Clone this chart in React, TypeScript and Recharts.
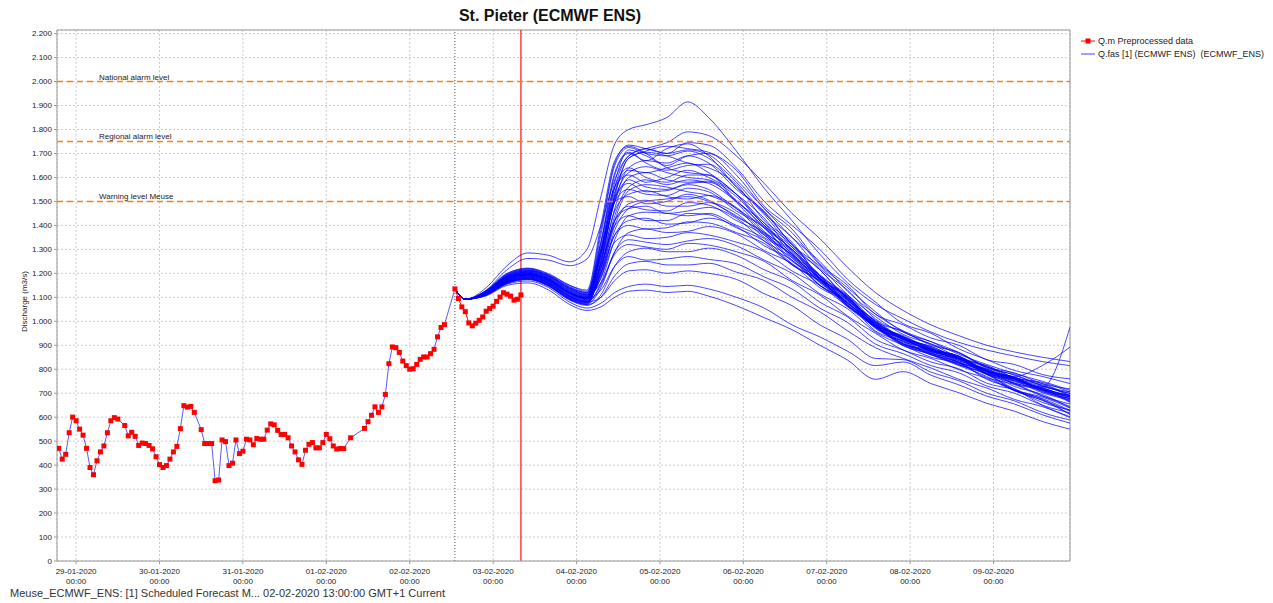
import React from "react";
import {
  LineChart,
  Line,
  XAxis,
  YAxis,
  CartesianGrid,
  ReferenceLine,
} from "recharts";

const FONT = "'Liberation Sans', Arial, sans-serif";

// time in hours since 29-01-2020 00:00
const obsHours = [
  -5, -4, -3, -2, -1, 0, 1, 2, 3, 4, 5, 6, 7, 8, 9, 10, 11, 12,
  14, 15, 16, 17, 18, 19, 20, 21, 22, 23, 24, 25, 26, 27, 28, 29, 30, 31, 32, 33, 34,
  36, 37, 38, 39, 40, 41, 42, 43, 44, 45, 46, 47, 48, 49, 50, 51, 52, 53, 54, 55, 56,
  57, 58, 59, 60, 61, 62, 63, 64, 65, 66, 67, 68, 69, 70, 71, 72, 73, 74, 75, 76, 77,
  79,
  83, 84, 85, 86, 87, 88, 89, 90, 91, 92, 93, 94, 95, 96, 97, 98, 99, 100, 101, 102, 103, 104, 105, 106,
  109, 110, 111, 112, 113, 114, 115, 116, 117, 118, 119, 120, 121, 122, 123, 124, 125, 126, 127, 128,
];
const obsValues = [
  470, 425, 445, 535, 600, 585, 550, 525, 470, 390, 360, 418, 455, 480, 535, 585, 598, 592,
  565, 522, 537, 520, 482, 492, 490, 482, 468, 435, 402, 390, 398, 425, 455, 478, 552, 648, 642, 645, 620,
  548, 490, 490, 490, 335, 338, 505, 498, 398, 408, 505, 448, 458, 508, 505, 485, 511, 508, 508, 546, 572,
  568, 545, 528, 528, 514, 480, 455, 422, 403, 462, 487, 494, 472, 472, 494, 528, 510, 480, 467, 469, 469,
  514,
  553, 581, 608, 643, 620, 643, 695, 823, 893, 890, 870, 834, 815, 800, 802, 820, 841, 851, 851, 865, 883, 935, 974, 986,
  1135, 1095, 1060, 1040, 993, 981, 992, 1004, 1018, 1042, 1053, 1063, 1083, 1101, 1119, 1113, 1105, 1088, 1092, 1110,
];

const forecastStart = 109; // 02-02-2020 13:00
const currentTime = 128; // 03-02-2020 08:00

const ensHours = [
  109, 112, 118, 124, 130, 136, 142, 147, 151, 155, 159, 164, 170, 176,
  182, 190, 198, 206, 214, 222, 230, 238, 246, 254, 262, 270, 278, 286,
];

const ensMembers = [
  [1135,1092,1140,1232,1285,1275,1248,1300,1520,1740,1800,1820,1850,1915,1850,1710,1555,1420,1280,1160,1070,1010,955,912,880,855,832,815],
  [1135,1092,1130,1215,1262,1255,1232,1260,1400,1590,1690,1720,1745,1790,1775,1690,1575,1450,1345,1225,1120,1045,985,940,900,872,850,832],
  [1135,1092,1125,1195,1215,1190,1140,1120,1380,1660,1735,1720,1700,1745,1735,1640,1500,1400,1300,1175,1080,990,950,885,840,795,770,740],
  [1135,1092,1118,1175,1200,1175,1120,1100,1300,1580,1715,1690,1650,1690,1700,1610,1470,1370,1235,1140,1040,955,915,870,810,775,730,700],
  [1135,1092,1122,1185,1210,1185,1135,1115,1320,1610,1700,1670,1720,1740,1690,1560,1455,1320,1215,1095,1000,925,880,850,780,740,690,645],
  [1135,1092,1115,1170,1190,1160,1105,1085,1250,1520,1680,1705,1690,1660,1640,1570,1420,1330,1180,1100,990,935,890,830,795,742,718,665],
  [1135,1092,1128,1200,1220,1195,1150,1130,1400,1670,1730,1700,1640,1620,1610,1530,1430,1290,1190,1070,975,905,860,815,770,710,672,625],
  [1135,1092,1112,1160,1180,1150,1095,1075,1240,1530,1680,1710,1730,1720,1705,1630,1480,1385,1240,1150,1030,985,930,900,840,820,778,760],
  [1135,1092,1120,1180,1195,1170,1115,1095,1330,1620,1705,1660,1630,1650,1655,1560,1445,1310,1215,1090,1005,930,895,845,810,760,735,688],
  [1135,1092,1116,1178,1205,1180,1128,1105,1360,1650,1725,1700,1690,1710,1680,1580,1450,1350,1220,1130,1010,955,905,868,805,778,732,705],
  [1135,1092,1124,1190,1212,1188,1138,1112,1260,1500,1640,1670,1660,1690,1660,1550,1460,1320,1230,1110,1020,945,905,850,815,765,740,690],
  [1135,1092,1114,1168,1188,1162,1108,1090,1280,1540,1630,1620,1640,1660,1620,1530,1400,1310,1180,1105,985,935,885,855,795,765,715,685],
  [1135,1092,1119,1182,1198,1172,1120,1098,1300,1560,1640,1600,1580,1610,1610,1500,1410,1280,1190,1075,985,910,870,828,788,728,695,640],
  [1135,1092,1110,1158,1175,1148,1090,1070,1220,1470,1600,1620,1590,1580,1585,1495,1375,1285,1160,1090,975,925,875,848,782,758,708,678],
  [1135,1092,1126,1195,1218,1192,1145,1120,1330,1560,1610,1580,1600,1630,1600,1530,1410,1320,1190,1110,1000,958,900,870,808,785,740,718],
  [1135,1092,1117,1172,1192,1165,1112,1092,1270,1500,1590,1560,1550,1575,1580,1505,1390,1300,1175,1100,985,935,880,855,790,765,715,690],
  [1135,1092,1121,1186,1205,1180,1130,1108,1290,1520,1575,1540,1545,1570,1550,1470,1390,1265,1180,1065,980,905,868,820,782,718,675,612],
  [1135,1092,1113,1165,1182,1155,1100,1080,1200,1420,1545,1570,1560,1540,1525,1470,1360,1275,1150,1080,960,918,865,842,778,752,702,672],
  [1135,1092,1123,1188,1208,1182,1132,1110,1280,1500,1550,1530,1525,1555,1540,1460,1390,1270,1185,1075,995,925,895,845,815,765,745,705],
  [1135,1092,1111,1162,1178,1150,1096,1076,1240,1460,1530,1545,1520,1510,1525,1475,1370,1295,1175,1105,985,940,885,855,792,768,718,692],
  [1135,1092,1127,1198,1222,1198,1150,1125,1300,1500,1520,1490,1500,1530,1505,1435,1370,1255,1175,1065,980,900,865,820,782,712,678,628],
  [1135,1092,1118,1175,1195,1168,1115,1094,1200,1400,1490,1505,1480,1480,1495,1450,1350,1280,1165,1095,980,930,878,852,790,762,712,684],
  [1135,1092,1115,1170,1186,1158,1104,1084,1220,1420,1480,1465,1460,1495,1485,1420,1360,1250,1175,1068,990,915,885,835,800,748,724,674],
  [1135,1092,1120,1184,1200,1175,1122,1100,1230,1420,1470,1480,1450,1460,1475,1430,1335,1265,1150,1085,975,928,875,845,782,758,725,975],
  [1135,1092,1112,1163,1180,1152,1098,1078,1160,1340,1440,1455,1450,1440,1450,1400,1345,1240,1170,1065,985,905,880,828,795,742,716,668],
  [1135,1092,1125,1192,1214,1190,1142,1118,1230,1400,1440,1420,1420,1450,1445,1390,1335,1235,1165,1060,975,898,862,818,778,712,670,612],
  [1135,1092,1116,1174,1192,1164,1110,1090,1190,1360,1420,1430,1405,1410,1430,1395,1315,1255,1150,1088,975,928,872,848,785,760,706,678],
  [1135,1092,1122,1187,1204,1178,1126,1104,1200,1360,1400,1385,1390,1415,1410,1370,1325,1235,1170,1075,995,920,885,836,798,770,815,892],
  [1135,1092,1110,1160,1176,1148,1092,1072,1140,1290,1370,1385,1370,1375,1395,1365,1295,1240,1140,1080,970,915,860,830,758,718,650,602],
  [1135,1092,1119,1180,1198,1170,1118,1096,1180,1330,1360,1345,1350,1370,1360,1330,1290,1210,1150,1062,985,905,875,826,790,738,712,662],
  [1135,1092,1114,1166,1184,1156,1102,1082,1150,1290,1340,1330,1320,1335,1345,1315,1255,1200,1115,1052,955,900,850,825,765,736,688,655],
  [1135,1092,1124,1190,1210,1186,1136,1110,1160,1280,1320,1310,1300,1325,1318,1290,1250,1170,1110,1022,950,880,845,798,762,712,684,638],
  [1135,1092,1110,1158,1174,1145,1088,1066,1110,1230,1290,1305,1290,1290,1305,1275,1215,1165,1080,1018,925,880,830,802,742,714,662,630],
  [1135,1092,1118,1176,1194,1168,1116,1094,1130,1230,1270,1255,1260,1270,1258,1240,1185,1135,1055,995,905,865,815,785,730,700,650,618],
  [1135,1092,1112,1162,1178,1150,1094,1070,1100,1190,1240,1250,1235,1235,1242,1205,1170,1100,1040,960,890,845,805,758,722,674,644,598],
  [1135,1092,1116,1170,1188,1160,1106,1080,1100,1170,1210,1215,1200,1210,1200,1175,1115,1065,985,925,845,840,788,752,700,668,620,588],
  [1135,1092,1108,1155,1168,1140,1080,1055,1075,1120,1145,1155,1145,1150,1135,1100,1055,985,935,875,815,830,775,735,688,655,610,575],
  [1135,1092,1106,1150,1160,1130,1070,1045,1060,1100,1125,1130,1120,1125,1105,1065,1015,965,900,838,758,790,740,702,658,625,582,550],
  [1135,1092,1121,1183,1202,1176,1124,1102,1280,1560,1690,1720,1700,1715,1695,1590,1470,1350,1250,1125,1030,960,915,862,820,782,750,712],
  [1135,1092,1117,1176,1196,1170,1118,1096,1250,1510,1620,1645,1620,1600,1590,1520,1400,1300,1195,1100,1000,930,890,845,798,755,720,688],
  [1135,1092,1113,1166,1184,1158,1104,1084,1210,1440,1560,1590,1570,1590,1575,1500,1395,1300,1190,1098,995,935,885,842,802,760,728,698],
  [1135,1092,1119,1179,1196,1172,1120,1098,1180,1380,1470,1500,1510,1520,1500,1440,1365,1275,1180,1090,990,925,880,840,792,752,722,682],
];

const dayTicks = [0, 24, 48, 72, 96, 120, 144, 168, 192, 216, 240, 264];
const dayLabels = [
  "29-01-2020", "30-01-2020", "31-01-2020", "01-02-2020", "02-02-2020", "03-02-2020",
  "04-02-2020", "05-02-2020", "06-02-2020", "07-02-2020", "08-02-2020", "09-02-2020",
];
const yTicks = [
  0, 100, 200, 300, 400, 500, 600, 700, 800, 900, 1000, 1100,
  1200, 1300, 1400, 1500, 1600, 1700, 1800, 1900, 2000, 2100, 2200,
];
const thresholdValues = [2000, 1750, 1500];
const thresholdNames = ["National alarm level", "Regional alarm level", "Warning level Meuse"];

const obsData = obsHours.map((h, i) => ({ h, q: obsValues[i] }));
const histData = obsData.filter((d) => d.h <= forecastStart);
const afterData = obsData.filter((d) => d.h >= forecastStart);
const ensData = ensHours.map((h, i) => {
  const row: Record<string, number> = { h };
  ensMembers.forEach((m, j) => {
    row["m" + j] = m[i];
  });
  return row;
});

function formatQ(v: number): string {
  if (v >= 1000) return `${Math.floor(v / 1000)}.${String(v % 1000).padStart(3, "0")}`;
  return String(v);
}

const DayTick = (props: any) => {
  const { x, y, payload } = props;
  const i = dayTicks.indexOf(payload.value);
  return (
    <g>
      <text x={x} y={y + 8} textAnchor="middle" fontSize={8} fill="#222" fontFamily={FONT}>
        {dayLabels[i]}
      </text>
      <text x={x} y={y + 18} textAnchor="middle" fontSize={8} fill="#222" fontFamily={FONT}>
        00:00
      </text>
    </g>
  );
};

const ThresholdLabel = (props: any) => {
  const { viewBox, text } = props;
  return (
    <text x={viewBox.x + 42} y={viewBox.y - 2} fontSize={8} fill="#222" fontFamily={FONT}>
      {text}
    </text>
  );
};

const ObsDot = (props: any) => {
  const { cx, cy, index } = props;
  return <rect key={`o${index}`} x={cx - 2.5} y={cy - 2.5} width={5} height={5} fill="#ff0000" />;
};

export default function App() {
  return (
    <div
      style={{
        position: "absolute",
        left: 0,
        top: 0,
        width: 1273,
        height: 603,
        background: "#fff",
        fontFamily: FONT,
      }}
    >
      <div
        style={{
          position: "absolute",
          left: 350,
          top: 7,
          width: 400,
          textAlign: "center",
          fontSize: 16,
          fontWeight: "bold",
          color: "#111",
        }}
      >
        St. Pieter (ECMWF ENS)
      </div>

      <LineChart
        width={1273}
        height={603}
        margin={{ top: 30, right: 203, bottom: 12, left: 17 }}
      >
        <CartesianGrid stroke="#cccccc" strokeDasharray="2 2" />
        <XAxis
          type="number"
          dataKey="h"
          domain={[-5.5, 286]}
          allowDataOverflow
          ticks={dayTicks}
          interval={0}
          height={30}
          tickSize={3}
          tick={<DayTick />}
          stroke="#9a9a9a"
        />
        <YAxis
          type="number"
          domain={[0, 2215]}
          allowDataOverflow
          ticks={yTicks}
          interval={0}
          width={40}
          tickSize={3}
          tickFormatter={formatQ}
          tick={{ fontSize: 8, fill: "#222", fontFamily: FONT }}
          stroke="#9a9a9a"
        />
        <ReferenceLine x={286} stroke="#9a9a9a" />
        <ReferenceLine y={2215} stroke="#9a9a9a" />
        <ReferenceLine x={forecastStart} stroke="#555" strokeDasharray="1 2" />
        <ReferenceLine x={currentTime} stroke="#ff2020" strokeWidth={1.3} />

        {ensMembers.map((_, j) => (
          <Line
            key={"m" + j}
            data={ensData}
            dataKey={"m" + j}
            type="monotone"
            stroke="#0000ff"
            strokeOpacity={0.72}
            strokeWidth={1}
            dot={false}
            activeDot={false}
            isAnimationActive={false}
          />
        ))}
        <Line
          data={afterData}
          dataKey="q"
          type="linear"
          stroke="#ff0000"
          strokeWidth={1}
          dot={false}
          activeDot={false}
          isAnimationActive={false}
        />
        <Line
          data={histData}
          dataKey="q"
          type="linear"
          stroke="#3c3cff"
          strokeOpacity={0.85}
          strokeWidth={1}
          dot={false}
          activeDot={false}
          isAnimationActive={false}
        />
        <Line
          data={obsData}
          dataKey="q"
          type="linear"
          stroke="none"
          dot={<ObsDot />}
          activeDot={false}
          isAnimationActive={false}
        />
        {thresholdValues.map((v, i) => (
          <ReferenceLine
            key={v}
            y={v}
            stroke="#ff8000"
            strokeWidth={1.5}
            strokeDasharray="6 4"
            label={<ThresholdLabel text={thresholdNames[i]} />}
          />
        ))}
      </LineChart>

      <div style={{ position: "absolute", left: 8, top: 303, width: 0, height: 0 }}>
        <div
          style={{
            position: "absolute",
            left: -50,
            top: -6,
            width: 100,
            textAlign: "center",
            fontSize: 8,
            color: "#222",
            transform: "translateX(16px) rotate(-90deg)",
            whiteSpace: "nowrap",
          }}
        >
          Discharge (m3/s)
        </div>
      </div>

      <div style={{ position: "absolute", left: 1081, top: 34, fontSize: 9, color: "#222" }}>
        <div style={{ display: "flex", alignItems: "center", height: 13 }}>
          <svg width={14} height={8} style={{ marginRight: 3 }}>
            <line x1={0} y1={4} x2={14} y2={4} stroke="#ff0000" strokeWidth={1} />
            <rect x={4.5} y={1.5} width={5} height={5} fill="#ff0000" />
          </svg>
          <span>Q.m Preprocessed data</span>
        </div>
        <div style={{ display: "flex", alignItems: "center", height: 13 }}>
          <svg width={14} height={8} style={{ marginRight: 3 }}>
            <line x1={0} y1={4} x2={14} y2={4} stroke="#4040ff" strokeWidth={1} />
          </svg>
          <span>Q.fas [1] (ECMWF ENS)&nbsp; (ECMWF_ENS)</span>
        </div>
      </div>

      <div
        style={{
          position: "absolute",
          left: 10,
          top: 587,
          fontSize: 11,
          color: "#333",
          whiteSpace: "nowrap",
        }}
      >
        Meuse_ECMWF_ENS: [1] Scheduled Forecast M... 02-02-2020 13:00:00 GMT+1 Current
      </div>
    </div>
  );
}
